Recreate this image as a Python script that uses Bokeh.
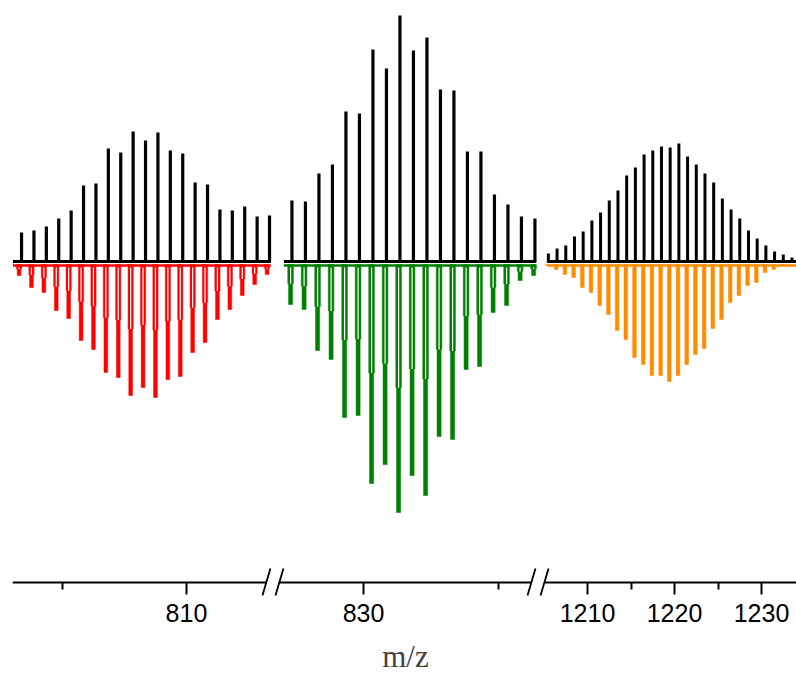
from bokeh.plotting import figure
from bokeh.layouts import row
from bokeh.models import FixedTicker, ColumnDataSource, Range1d
from bokeh.embed import file_html
from bokeh.resources import INLINE

# ---------------- data ----------------
# segment 1 : experimental (black, up) and simulated (red, down)
seg1_mz_exp = [796.7, 797.7, 798.7, 799.7, 800.7, 801.7, 802.7, 803.7, 804.7, 805.7, 806.7,
               807.7, 808.7, 809.7, 810.7, 811.7, 812.7, 813.7, 814.7, 815.7, 816.7]
seg1_exp = [30, 32, 36, 44, 52, 77, 79, 114, 110, 131, 122, 130, 112, 109, 80, 78, 53, 52, 56, 46, 47]
seg1_mz_sim = [796.5, 797.5, 798.5, 799.5, 800.5, 801.5, 802.5, 803.5, 804.5, 805.5, 806.5,
               807.5, 808.5, 809.5, 810.5, 811.5, 812.5, 813.5, 814.5, 815.5, 816.5]
seg1_sim = [13, 25, 30, 48, 56, 78, 87, 110, 115, 133, 125, 135, 117, 114, 90, 80, 57, 47, 33, 22, 12]

# segment 2 : experimental (black) and simulated (green)
seg2_mz_exp = [824.7, 825.7, 826.7, 827.7, 828.7, 829.7, 830.7, 831.7, 832.7, 833.7,
               834.7, 835.7, 836.7, 837.7, 838.7, 839.7, 840.7, 841.7, 842.7]
seg2_exp = [62, 61, 89, 98, 151, 149, 213, 194, 247, 212, 225, 173, 172, 111, 111, 68, 58, 46, 44]
seg2_mz_sim = [824.6, 825.6, 826.6, 827.6, 828.6, 829.6, 830.6, 831.6, 832.6, 833.6,
               834.6, 835.6, 836.6, 837.6, 838.6, 839.6, 840.6, 841.6, 842.6]
seg2_sim = [42, 47, 88, 97, 155, 153, 221, 202, 250, 213, 233, 174, 177, 107, 104, 50, 43, 18, 13]

# segment 3 : experimental (black) and simulated (orange)
seg3_mz_exp = [1205.5, 1206.5, 1207.5, 1208.5, 1209.5, 1210.5, 1211.5, 1212.5, 1213.5, 1214.5,
               1215.5, 1216.5, 1217.5, 1218.5, 1219.5, 1220.5, 1221.5, 1222.5, 1223.5, 1224.5,
               1225.5, 1226.5, 1227.5, 1228.5, 1229.5, 1230.5, 1231.5, 1232.5, 1233.5]
seg3_exp = [9, 14, 17, 26, 31, 42, 50, 62, 72, 87, 95, 108, 112, 116, 115, 119, 106, 98, 89, 80,
            64, 53, 44, 32, 24, 17, 11, 8, 5]
seg3_mz_sim = [1205.4, 1206.4, 1207.4, 1208.4, 1209.4, 1210.4, 1211.4, 1212.4, 1213.4, 1214.4,
               1215.4, 1216.4, 1217.4, 1218.4, 1219.4, 1220.4, 1221.4, 1222.4, 1223.4, 1224.4,
               1225.4, 1226.4, 1227.4, 1228.4, 1229.4, 1230.4, 1231.4, 1232.4, 1233.4]
seg3_sim = [3, 7, 12, 15, 25, 30, 43, 52, 68, 77, 95, 102, 113, 113, 119, 113, 102, 92, 86, 66,
            57, 40, 33, 23, 20, 10, 7, 3, 2]

# visible x windows of each panel, spectrum spans and axis extents
seg1_view = (795.97, 816.94)
seg2_view = (823.26, 842.89)
seg3_view = (1204.25, 1234.02)
seg1_span = (796.0, 816.8)
seg2_span = (824.1, 842.75)
seg3_span = (1205.4, 1234.02)
seg1_axis = (795.97, 816.45)
seg2_axis = (823.78, 842.44)
seg3_axis = (1205.05, 1234.02)
seg1_major, seg1_minor = [810], [800]
seg2_major, seg2_minor = [830], [840]
seg3_major, seg3_minor = [1210, 1220, 1230], [1215, 1225]

Y_RANGE = (-415, 262)   # intensity window (arbitrary units)
AXIS_Y = -320           # where the m/z axis is drawn
H = 677


def panel(width, view, span, axis_b, major, minor, mz_e, exp, mz_s, sim, color,
          bar_w, inner, black_w, left_border=0, xlabel=None, breaks=()):
    p = figure(width=width, height=H, output_backend="svg", toolbar_location=None,
               x_range=Range1d(*view), y_range=Range1d(*Y_RANGE),
               y_axis_location=None, min_border_left=left_border, min_border_right=0,
               min_border_top=0, min_border_bottom=0)
    p.outline_line_color = None
    p.grid.visible = False
    p.background_fill_color = "white"
    p.border_fill_color = "white"

    ax = p.xaxis[0]
    ax.fixed_location = AXIS_Y
    ax.ticker = FixedTicker(ticks=major, minor_ticks=minor)
    ax.bounds = axis_b
    ax.axis_line_width = 2
    ax.axis_line_color = "black"
    ax.major_tick_line_width = 2
    ax.minor_tick_line_width = 2
    ax.major_tick_out = 12
    ax.major_tick_in = 0
    ax.minor_tick_out = 7
    ax.minor_tick_in = 0
    ax.major_label_text_font = "Liberation Sans"
    ax.major_label_text_font_size = "25px"
    ax.major_label_text_color = "black"
    ax.major_label_standoff = 9
    if xlabel:
        ax.axis_label = xlabel
        ax.axis_label_text_font = "Liberation Serif"
        ax.axis_label_text_font_style = "normal"
        ax.axis_label_text_font_size = "31px"
        ax.axis_label_standoff = 14

    # simulated (negative) pattern
    neg = [-d for d in sim]
    p.line(x=list(span), y=[-3, -3], line_color=color, line_width=2.5)
    if inner:
        half = [-0.5 * d for d in sim]
        src_s = ColumnDataSource(dict(x=mz_s, bottom=neg, half=half))
        # upper (doublet) part, wide, with a white slit
        p.vbar(x="x", top=-2, bottom="half", width=bar_w, source=src_s,
               fill_color=color, line_color=color, line_width=0.5)
        # lower (single line) part
        p.vbar(x="x", top="half", bottom="bottom", width=bar_w * 0.72, source=src_s,
               fill_color=color, line_color=color, line_width=0.5)
        p.segment(x0="x", y0=-5, x1="x", y1="half", source=src_s,
                  line_color="white", line_width=1.2)
    else:
        src_s = ColumnDataSource(dict(x=mz_s, bottom=neg))
        p.vbar(x="x", top=-2, bottom="bottom", width=bar_w, source=src_s,
               fill_color=color, line_color=color, line_width=0.5)

    # experimental (positive) pattern
    src_e = ColumnDataSource(dict(x=mz_e, top=exp))
    p.segment(x0="x", y0=0, x1="x", y1="top", source=src_e,
              line_color="black", line_width=black_w)
    p.line(x=list(span), y=[1, 1], line_color="black", line_width=3)

    # axis-break marks "//"
    if breaks:
        bx0 = [b[0] for b in breaks]
        bx1 = [b[1] for b in breaks]
        p.segment(x0=bx0, y0=[AXIS_Y - 13] * len(breaks), x1=bx1, y1=[AXIS_Y + 14] * len(breaks),
                  line_color="black", line_width=1.8)
    return p


p1 = panel(272, seg1_view, seg1_span, seg1_axis, seg1_major, seg1_minor,
           seg1_mz_exp, seg1_exp, seg1_mz_sim, seg1_sim, "#ff0000", 0.42, True, 3.2,
           left_border=12, breaks=[(816.13, 816.77)])
p2 = panel(265, seg2_view, seg2_span, seg2_axis, seg2_major, seg2_minor,
           seg2_mz_exp, seg2_exp, seg2_mz_sim, seg2_sim, "#008000", 0.42, True, 3.2,
           xlabel="m/z", breaks=[(823.48, 824.07), (842.15, 842.74)])
p3 = panel(259, seg3_view, seg3_span, seg3_axis, seg3_major, seg3_minor,
           seg3_mz_exp, seg3_exp, seg3_mz_sim, seg3_sim, "#ff8c00", 0.42, False, 3.0,
           breaks=[(1204.6, 1205.52)])

layout = row(p1, p2, p3, spacing=0)
open("out.html", "w").write(file_html(layout, INLINE))
